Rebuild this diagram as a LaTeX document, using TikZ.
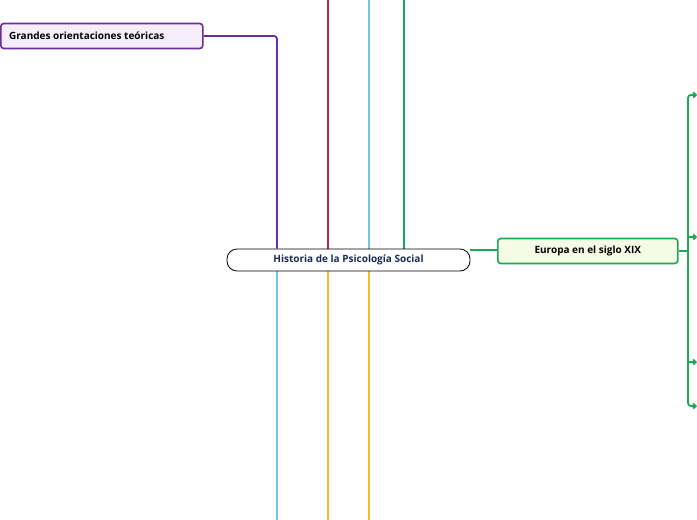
\documentclass[tikz,border=0pt]{standalone}
\usepackage{fontspec}
\setmainfont{Open Sans}
\usetikzlibrary{arrows.meta, positioning}
\definecolor{topicnavy}{HTML}{1B2A55}
\definecolor{lnpurple}{HTML}{6A2E9A}
\definecolor{lnred}{HTML}{C3203E}
\definecolor{lnblue}{HTML}{6CC5EC}
\definecolor{lngreen}{HTML}{1AAA55}
\definecolor{lnorange}{HTML}{FBB923}
\definecolor{fillpurple}{HTML}{F6EDFC}
\definecolor{fillgreen}{HTML}{F6FBE3}

\begin{document}
\begin{tikzpicture}[
        x=1pt, y=-1pt,
        font=\fontsize{10}{12}\selectfont\bfseries,
        topic/.style={draw, line width=0.8pt, rounded corners=10pt, minimum width=243pt, minimum height=22pt, text=topicnavy, fill=white},
        sub/.style={draw, line width=1.6pt, rounded corners=3pt, minimum height=25pt, align=center},
        ln/.style={line width=1.8pt},
        br/.style={line width=1.8pt, rounded corners=3pt}
    ]
        \useasboundingbox (0,0) rectangle (697,520);

        % side lines
        \draw[ln, lnred]    (328,0) coordinate (rtop) -- (328,260);
        \draw[ln, lnblue]   (369,0) coordinate (btop) -- (369,260);
        \draw[ln, lngreen]  (404,0) coordinate (gtop) -- (404,260);
        \draw[ln, lnblue]   (277,260) -- (277,520) coordinate (bbot);
        \draw[ln, lnorange] (328,260) -- (328,520) coordinate (obot1);
        \draw[ln, lnorange] (369,260) -- (369,520) coordinate (obot2);

        \node[topic] (hist) at (348.5,260) {Historia de la Psicología Social};
        \node[sub, fill=fillpurple, draw=lnpurple, minimum width=202pt, anchor=west] (gro) at (0,36) {\hspace*{-30pt}Grandes orientaciones teóricas};
        \node[sub, fill=fillgreen, draw=lngreen, minimum width=180pt, anchor=west] (eur) at (497,251) {Europa en el siglo XIX};

        \draw[br, lnpurple] (gro.east) -| (hist.north -| 277,0);
        \draw[ln, lngreen]  (hist.east |- 0,250) -- (eur.west |- 0,250);

        % branches to the right
        \coordinate (bar) at (688,251);
        \draw[br, lngreen] (eur.east) -- (bar);
        \draw[br, lngreen, -{Straight Barb[length=2.5pt, width=5pt]}] (bar) |- (697,95) coordinate (e1);
        \draw[br, lngreen, -{Straight Barb[length=2.5pt, width=5pt]}] (bar) |- (697,406) coordinate (e4);
        \draw[ln, lngreen, -{Straight Barb[length=2.5pt, width=5pt]}] (bar |- 0,237) -- (697,237) coordinate (e2);
        \draw[ln, lngreen, -{Straight Barb[length=2.5pt, width=5pt]}] (bar |- 0,362) -- (697,362) coordinate (e3);
    \end{tikzpicture}
\end{document}
